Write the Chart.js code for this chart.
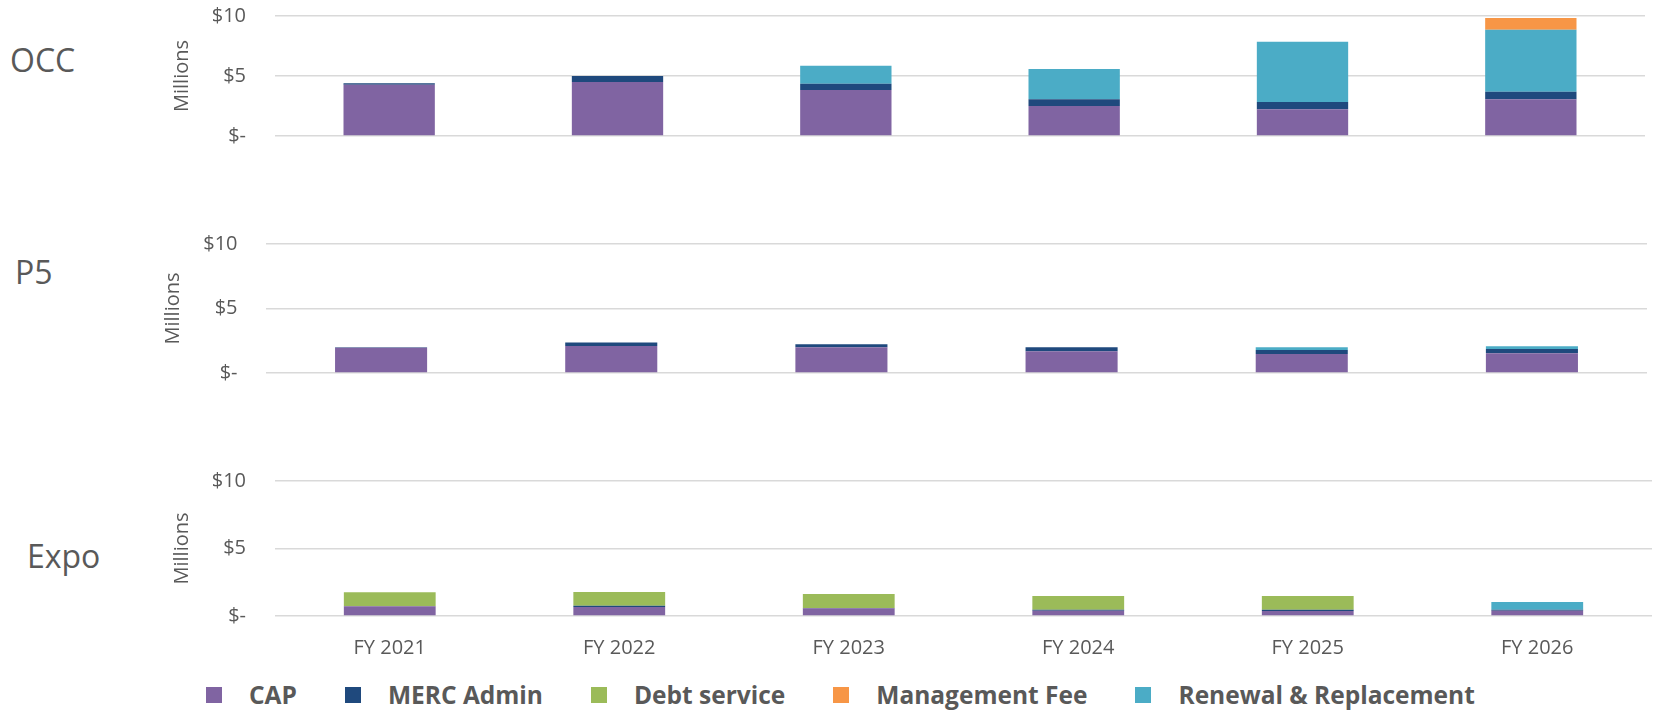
<!DOCTYPE html>
<html>
<head>
<meta charset="utf-8">
<script src="https://cdn.jsdelivr.net/npm/chart.js@4.4.1/dist/chart.umd.min.js"></script>
<style>
  body { margin: 0; background: #fff; width: 1654px; height: 710px; overflow: hidden; position: relative; font-family: 'Open Sans', sans-serif; }
  canvas { position: absolute; left: 0; }
  .venue { position: absolute; font-size: 32px; line-height: 32px; color: #595959; }
  #legend { position: absolute; left: 206px; top: 678px; display: flex; align-items: center; }
  .item { display: flex; align-items: center; margin-right: 48px; font-weight: bold; font-size: 24.5px; color: #595959; }
  .swatch { width: 16px; height: 16px; margin-right: 27px; }
</style>
</head>
<body>
<div class="venue" style="left:10px;top:44px">OCC</div>
<div class="venue" style="left:15px;top:256px">P5</div>
<div class="venue" style="left:27px;top:540px">Expo</div>
<canvas id="occ" width="1654" height="152" style="top:0px"></canvas>
<canvas id="p5" width="1654" height="160" style="top:228px"></canvas>
<canvas id="expo" width="1654" height="200" style="top:465px"></canvas>
<div id="legend"></div>
<script>
const years = ['FY 2021', 'FY 2022', 'FY 2023', 'FY 2024', 'FY 2025', 'FY 2026'];
const seriesNames = ['CAP', 'MERC Admin', 'Debt service', 'Management Fee', 'Renewal & Replacement'];
const seriesColors = ['#8064A2', '#1F497D', '#9BBB59', '#F79646', '#4BACC6'];
// bottom-to-top order of the stack (Management Fee sits on top)
const stackOrder = [0, 1, 2, 4, 3];

// values in $ millions
const occCap   = [4.28, 4.5, 3.83, 2.5, 2.22, 3.06];
const occMerc  = [0.12, 0.5, 0.53, 0.56, 0.61, 0.63];
const occDebt  = [0, 0, 0, 0, 0, 0];
const occMgmt  = [0, 0, 0, 0, 0, 0.97];
const occRenew = [0, 0, 1.5, 2.52, 5.03, 5.17];

const p5Cap   = [1.95, 2.1, 2.0, 1.69, 1.48, 1.53];
const p5Merc  = [0.05, 0.27, 0.23, 0.31, 0.31, 0.34];
const p5Debt  = [0, 0, 0, 0, 0, 0];
const p5Mgmt  = [0, 0, 0, 0, 0, 0];
const p5Renew = [0, 0, 0, 0, 0.21, 0.21];

const expoCap   = [0.72, 0.67, 0.57, 0.39, 0.37, 0.39];
const expoMerc  = [0, 0.09, 0.02, 0.08, 0.1, 0.08];
const expoDebt  = [1.04, 1.02, 1.04, 1.01, 1.01, 0];
const expoMgmt  = [0, 0, 0, 0, 0, 0];
const expoRenew = [0, 0, 0, 0, 0, 0.57];

const yTicks = { 0: '$-', 5: '$5', 10: '$10' };

Chart.defaults.font.family = "'Open Sans', sans-serif";
Chart.defaults.color = '#595959';

function makeChart(id, series, opt) {
  const datasets = stackOrder.map((i) => ({
    label: seriesNames[i],
    data: series[i],
    backgroundColor: seriesColors[i],
    borderWidth: 0,
    barPercentage: 0.4,
    categoryPercentage: 1.0
  }));
  const xAxis = {
    stacked: true,
    display: opt.showX,
    grid: { display: false, drawTicks: false },
    border: { display: false },
    ticks: { font: { size: 20 }, padding: 20 }
  };
  if (opt.showX) xAxis.afterFit = (s) => { s.height = 49; };
  return new Chart(document.getElementById(id), {
    type: 'bar',
    data: { labels: years, datasets },
    options: {
      responsive: false,
      animation: false,
      layout: { padding: opt.padding },
      plugins: { legend: { display: false }, tooltip: { enabled: false } },
      scales: {
        x: xAxis,
        y: {
          stacked: true,
          min: 0,
          max: 10,
          // invisible tick marks push the labels away from the plot
          grid: { color: '#d9d9d9', lineWidth: 1.5, drawTicks: true, tickLength: opt.tickPad, tickColor: 'rgba(0,0,0,0)' },
          border: { display: false },
          ticks: {
            stepSize: 5,
            padding: 0,
            font: { size: 20 },
            callback: (v) => yTicks[v]
          },
          title: {
            display: true,
            text: 'Millions',
            font: { size: 20 },
            padding: { top: opt.titleX - 12, bottom: 0 }
          },
          afterFit: (s) => { s.width = opt.axisWidth; }
        }
      }
    }
  });
}

makeChart('occ', [occCap, occMerc, occDebt, occMgmt, occRenew],
  { padding: { top: 16, bottom: 16, left: 0, right: 9 }, showX: false, axisWidth: 275, tickPad: 29, titleX: 182 });
makeChart('p5', [p5Cap, p5Merc, p5Debt, p5Mgmt, p5Renew],
  { padding: { top: 16, bottom: 15, left: 0, right: 7 }, showX: false, axisWidth: 266, tickPad: 28.5, titleX: 173 });
makeChart('expo', [expoCap, expoMerc, expoDebt, expoMgmt, expoRenew],
  { padding: { top: 16, bottom: 0, left: 0, right: 2 }, showX: true, axisWidth: 275, tickPad: 29, titleX: 182 });

// legend
const legend = document.getElementById('legend');
seriesNames.forEach((name, i) => {
  const item = document.createElement('div');
  item.className = 'item';
  const sw = document.createElement('span');
  sw.className = 'swatch';
  sw.style.background = seriesColors[i];
  item.appendChild(sw);
  item.appendChild(document.createTextNode(name));
  legend.appendChild(item);
});
</script>
</body>
</html>
